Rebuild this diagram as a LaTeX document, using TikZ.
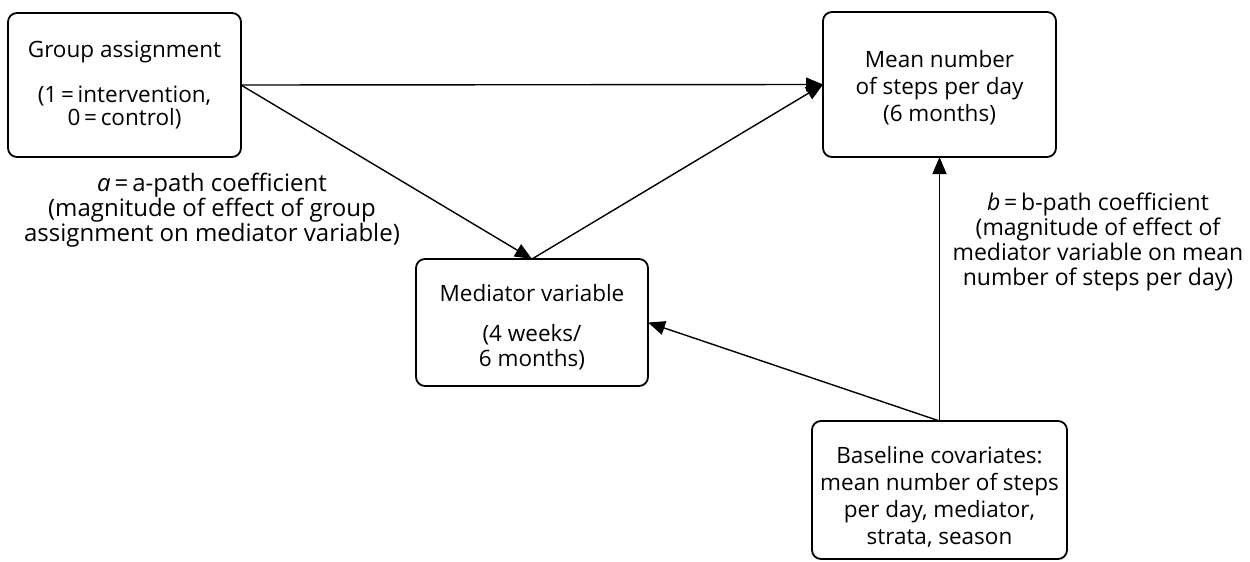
\documentclass[tikz,border=0pt]{standalone}
\usepackage{fontspec}
\setmainfont{Open Sans}
\usetikzlibrary{arrows.meta}
\begin{document}
\begin{tikzpicture}[x=1pt,y=-1pt,
  box/.style={draw, line width=1.8pt, rounded corners=9pt, align=center, inner sep=0pt, outer sep=0pt,
    font=\fontsize{22.5}{27}\selectfont},
  lbl/.style={align=center, inner sep=0pt, font=\fontsize{24}{25}\selectfont},
  conn/.style={line width=1.4pt, -{Triangle[length=17pt,width=14pt]}}]
\useasboundingbox (0,0) rectangle (1250,562);
\node[box, minimum width=233pt, minimum height=144pt] (g) at (124.5,85)
  {Group assignment\\[18pt](1\,=\,intervention,\\[-3.5pt]0\,=\,control)};
\node[box, minimum width=233pt, minimum height=145pt] (m) at (939.5,84.5)
  {\rule{0pt}{23pt}Mean number\\of steps per day\\(6 months)};
\node[box, minimum width=232pt, minimum height=127pt] (med) at (532,322.5)
  {\rule{0pt}{27pt}Mediator variable\\[13pt](4 weeks/\\[-2pt]6 months)};
\node[box, minimum width=255pt, minimum height=138pt] (base) at (939.5,490)
  {\rule{0pt}{31pt}Baseline covariates:\\mean number of steps\\per day, mediator,\\strata, season};
\node[lbl] (la) at (212,210) {\textit{a}\,=\,a-path coefficient\\(magnitude of effect of group\\assignment on mediator variable)};
\node[lbl, font=\fontsize{23}{25}\selectfont] (lb) at (1098,242) {\textit{b}\,=\,b-path coefficient\\(magnitude of effect of\\mediator variable on mean\\number of steps per day)};
\draw[conn] (g.east) -- (m.west);
\draw[conn] (g.east) -- (med.north);
\draw[conn] (med.north) -- (m.west);
\draw[conn] (base.north) -- (m.south);
\draw[conn] (base.north) -- (med.east);
\end{tikzpicture}
\end{document}
